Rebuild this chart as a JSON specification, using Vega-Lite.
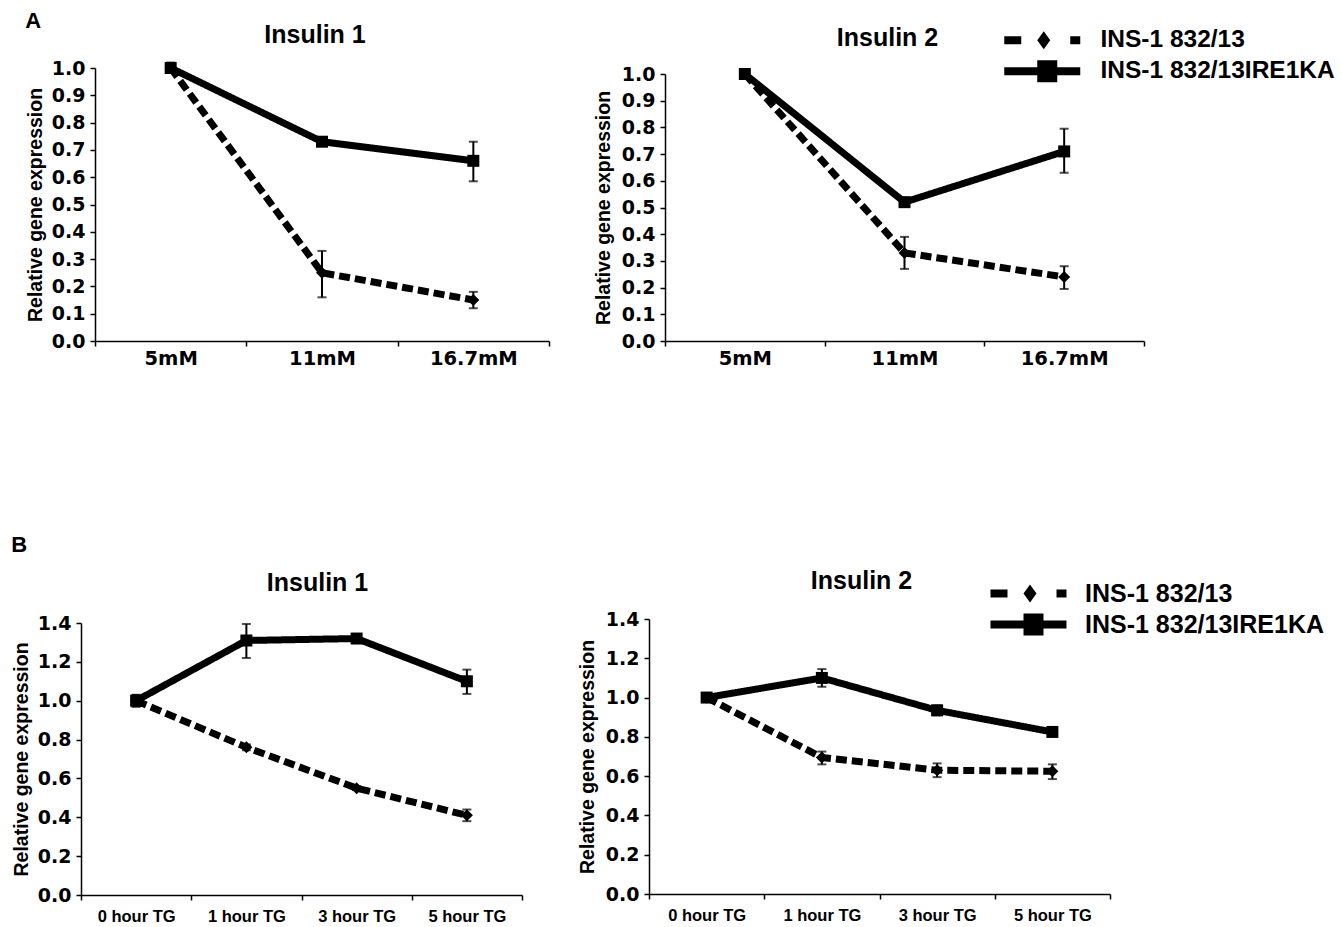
{
  "$schema": "https://vega.github.io/schema/vega-lite/v6.json",
  "background": "white",
  "padding": {"left": 11, "top": 10, "right": 5, "bottom": 0},
  "datasets": {
    "d": [
      {"panel": "A1", "x": "5mM", "i": 0, "group": "INS-1 832/13", "y": 1.0, "lo": 0.985, "hi": 1.015},
      {"panel": "A1", "x": "11mM", "i": 1, "group": "INS-1 832/13", "y": 0.25, "lo": 0.16, "hi": 0.33},
      {"panel": "A1", "x": "16.7mM", "i": 2, "group": "INS-1 832/13", "y": 0.15, "lo": 0.12, "hi": 0.18},
      {"panel": "A1", "x": "5mM", "i": 0, "group": "INS-1 832/13IRE1KA", "y": 1.0, "lo": 0.985, "hi": 1.02},
      {"panel": "A1", "x": "11mM", "i": 1, "group": "INS-1 832/13IRE1KA", "y": 0.73, "lo": 0.72, "hi": 0.74},
      {"panel": "A1", "x": "16.7mM", "i": 2, "group": "INS-1 832/13IRE1KA", "y": 0.66, "lo": 0.585, "hi": 0.73},
      {"panel": "A2", "x": "5mM", "i": 0, "group": "INS-1 832/13", "y": 1.0, "lo": 0.995, "hi": 1.005},
      {"panel": "A2", "x": "11mM", "i": 1, "group": "INS-1 832/13", "y": 0.33, "lo": 0.27, "hi": 0.39},
      {"panel": "A2", "x": "16.7mM", "i": 2, "group": "INS-1 832/13", "y": 0.24, "lo": 0.195, "hi": 0.28},
      {"panel": "A2", "x": "5mM", "i": 0, "group": "INS-1 832/13IRE1KA", "y": 1.0, "lo": 0.995, "hi": 1.005},
      {"panel": "A2", "x": "11mM", "i": 1, "group": "INS-1 832/13IRE1KA", "y": 0.52, "lo": 0.505, "hi": 0.535},
      {"panel": "A2", "x": "16.7mM", "i": 2, "group": "INS-1 832/13IRE1KA", "y": 0.71, "lo": 0.63, "hi": 0.795},
      {"panel": "B1", "x": "0 hour TG", "i": 0, "group": "INS-1 832/13", "y": 1.0, "lo": 0.97, "hi": 1.03},
      {"panel": "B1", "x": "1 hour TG", "i": 1, "group": "INS-1 832/13", "y": 0.76, "lo": 0.745, "hi": 0.775},
      {"panel": "B1", "x": "3 hour TG", "i": 2, "group": "INS-1 832/13", "y": 0.55, "lo": 0.54, "hi": 0.56},
      {"panel": "B1", "x": "5 hour TG", "i": 3, "group": "INS-1 832/13", "y": 0.41, "lo": 0.38, "hi": 0.44},
      {"panel": "B1", "x": "0 hour TG", "i": 0, "group": "INS-1 832/13IRE1KA", "y": 1.0, "lo": 0.97, "hi": 1.03},
      {"panel": "B1", "x": "1 hour TG", "i": 1, "group": "INS-1 832/13IRE1KA", "y": 1.31, "lo": 1.22, "hi": 1.395},
      {"panel": "B1", "x": "3 hour TG", "i": 2, "group": "INS-1 832/13IRE1KA", "y": 1.32, "lo": 1.31, "hi": 1.325},
      {"panel": "B1", "x": "5 hour TG", "i": 3, "group": "INS-1 832/13IRE1KA", "y": 1.1, "lo": 1.035, "hi": 1.16},
      {"panel": "B2", "x": "0 hour TG", "i": 0, "group": "INS-1 832/13", "y": 1.0, "lo": 0.99, "hi": 1.01},
      {"panel": "B2", "x": "1 hour TG", "i": 1, "group": "INS-1 832/13", "y": 0.695, "lo": 0.66, "hi": 0.725},
      {"panel": "B2", "x": "3 hour TG", "i": 2, "group": "INS-1 832/13", "y": 0.63, "lo": 0.595, "hi": 0.665},
      {"panel": "B2", "x": "5 hour TG", "i": 3, "group": "INS-1 832/13", "y": 0.625, "lo": 0.585, "hi": 0.66},
      {"panel": "B2", "x": "0 hour TG", "i": 0, "group": "INS-1 832/13IRE1KA", "y": 1.0, "lo": 0.99, "hi": 1.01},
      {"panel": "B2", "x": "1 hour TG", "i": 1, "group": "INS-1 832/13IRE1KA", "y": 1.1, "lo": 1.055, "hi": 1.145},
      {"panel": "B2", "x": "3 hour TG", "i": 2, "group": "INS-1 832/13IRE1KA", "y": 0.935, "lo": 0.91, "hi": 0.96},
      {"panel": "B2", "x": "5 hour TG", "i": 3, "group": "INS-1 832/13IRE1KA", "y": 0.825, "lo": 0.805, "hi": 0.845}
    ]
  },
  "config": {
    "view": {"stroke": null},
    "axis": {"grid": false, "domainColor": "black", "domainWidth": 1.5, "tickColor": "black", "tickWidth": 1.5, "tickSize": 5, "labelColor": "black", "labelFont": "DejaVu Sans", "labelFontWeight": "bold", "titleColor": "black", "titleFont": "Liberation Sans", "titleFontWeight": "bold", "titleFontSize": 19.5},
    "axisX": {"labelAngle": 0, "tickBand": "extent", "labelPadding": 3},
    "axisY": {"labelFontSize": 19, "labelPadding": 5, "titlePadding": 8},
    "title": {"font": "Liberation Sans", "fontSize": 25, "fontWeight": "bold", "color": "black"},
    "legend": {"labelFont": "Liberation Sans", "labelFontWeight": "bold", "labelColor": "black", "padding": 0, "labelLimit": 0, "symbolStrokeWidth": 0, "symbolSize": 400, "title": null}
  },
  "columns": 1,
  "align": "none",
  "spacing": 166,
  "resolve": {"scale": {"strokeDash": "independent", "fill": "independent", "color": "independent"}, "legend": {"strokeDash": "independent", "fill": "independent", "color": "independent"}},
  "concat": [
    {
      "title": {"text": "A", "anchor": "start", "fontSize": 22, "offset": -10},
      "columns": 2,
      "align": "none",
      "spacing": 43,
      "concat": [
        {
          "width": 468, "height": 273,
          "title": {"text": "Insulin 1", "dx": 0, "offset": 6},
          "data": {"name": "d"},
          "transform": [{"filter": "datum.panel == 'A1'"}],
          "encoding": {"x": {"field": "x", "type": "nominal", "title": null, "sort": ["5mM", "11mM", "16.7mM"], "scale": {"type": "band", "paddingInner": 0, "paddingOuter": 0, "range": [14, 468]}, "axis": {"labelFontSize": 19.5}}},
          "layer": [
            {"mark": {"type": "rule", "color": "black", "strokeWidth": 2}, "encoding": {"y": {"field": "lo", "type": "quantitative", "title": "Relative gene expression", "scale": {"domain": [0, 1]}, "axis": {"values": [0, 0.1, 0.2, 0.3, 0.4, 0.5, 0.6, 0.7, 0.8, 0.9, 1.0], "format": ".1f", "titlePadding": 6, "offset": -14}}, "y2": {"field": "hi"}}},
            {"mark": {"type": "tick", "color": "black", "size": 9, "thickness": 2}, "encoding": {"y": {"field": "lo", "type": "quantitative", "title": "Relative gene expression", "scale": {"domain": [0, 1]}, "axis": {"values": [0, 0.1, 0.2, 0.3, 0.4, 0.5, 0.6, 0.7, 0.8, 0.9, 1.0], "format": ".1f", "titlePadding": 6, "offset": -14}}}},
            {"mark": {"type": "tick", "color": "black", "size": 9, "thickness": 2}, "encoding": {"y": {"field": "hi", "type": "quantitative", "title": "Relative gene expression", "scale": {"domain": [0, 1]}, "axis": {"values": [0, 0.1, 0.2, 0.3, 0.4, 0.5, 0.6, 0.7, 0.8, 0.9, 1.0], "format": ".1f", "titlePadding": 6, "offset": -14}}}},
            {"mark": {"type": "line", "color": "black", "strokeWidth": 7}, "encoding": {"y": {"field": "y", "type": "quantitative", "title": "Relative gene expression", "scale": {"domain": [0, 1]}, "axis": {"values": [0, 0.1, 0.2, 0.3, 0.4, 0.5, 0.6, 0.7, 0.8, 0.9, 1.0], "format": ".1f", "titlePadding": 6, "offset": -14}}, "order": {"field": "i", "type": "quantitative"}, "strokeDash": {"field": "group", "type": "nominal", "scale": {"domain": ["INS-1 832/13", "INS-1 832/13IRE1KA"], "range": [[11, 5], [1, 0]]}, "legend": null}}},
            {"transform": [{"filter": "datum.group == 'INS-1 832/13'"}], "mark": {"type": "point", "shape": "diamond", "filled": true, "opacity": 1, "size": 144}, "encoding": {"y": {"field": "y", "type": "quantitative", "title": "Relative gene expression", "scale": {"domain": [0, 1]}, "axis": {"values": [0, 0.1, 0.2, 0.3, 0.4, 0.5, 0.6, 0.7, 0.8, 0.9, 1.0], "format": ".1f", "titlePadding": 6, "offset": -14}}, "fill": {"field": "group", "type": "nominal", "scale": {"domain": ["INS-1 832/13"], "range": ["black"]}, "legend": {"orient": "none", "legendX": 921, "legendY": -40, "labelFontSize": 24.5, "labelOffset": 74, "symbolType": "M-1,-0.4L0.7,-0.4L0.7,0.4L-1,0.4Z M2.95,-0.9L3.6,0L2.95,0.9L2.3,0Z M5.6,-0.4L6.6,-0.4L6.6,0.4L5.6,0.4Z"}}}},
            {"transform": [{"filter": "datum.group == 'INS-1 832/13IRE1KA'"}], "mark": {"type": "point", "shape": "square", "filled": true, "opacity": 1, "size": 144}, "encoding": {"y": {"field": "y", "type": "quantitative", "title": "Relative gene expression", "scale": {"domain": [0, 1]}, "axis": {"values": [0, 0.1, 0.2, 0.3, 0.4, 0.5, 0.6, 0.7, 0.8, 0.9, 1.0], "format": ".1f", "titlePadding": 6, "offset": -14}}, "color": {"field": "group", "type": "nominal", "scale": {"domain": ["INS-1 832/13IRE1KA"], "range": ["black"]}, "legend": {"orient": "none", "legendX": 921, "legendY": -9, "labelFontSize": 24.5, "labelOffset": 74, "symbolType": "M-1,-0.4L6.6,-0.4L6.6,0.4L-1,0.4Z M2.3,-1.1L4.3,-1.1L4.3,1.1L2.3,1.1Z"}}}}
          ]
        },
        {
          "width": 479, "height": 273,
          "title": {"text": "Insulin 2", "dx": -17, "offset": 9},
          "data": {"name": "d"},
          "transform": [{"filter": "datum.panel == 'A2'"}],
          "encoding": {"x": {"field": "x", "type": "nominal", "title": null, "sort": ["5mM", "11mM", "16.7mM"], "scale": {"type": "band", "paddingInner": 0, "paddingOuter": 0}, "axis": {"labelFontSize": 19.5}}},
          "layer": [
            {"mark": {"type": "rule", "color": "black", "strokeWidth": 2}, "encoding": {"y": {"field": "lo", "type": "quantitative", "title": "Relative gene expression", "scale": {"domain": [0, 1], "range": [273, 6]}, "axis": {"values": [0, 0.1, 0.2, 0.3, 0.4, 0.5, 0.6, 0.7, 0.8, 0.9, 1.0], "format": ".1f"}}, "y2": {"field": "hi"}}},
            {"mark": {"type": "tick", "color": "black", "size": 9, "thickness": 2}, "encoding": {"y": {"field": "lo", "type": "quantitative", "title": "Relative gene expression", "scale": {"domain": [0, 1], "range": [273, 6]}, "axis": {"values": [0, 0.1, 0.2, 0.3, 0.4, 0.5, 0.6, 0.7, 0.8, 0.9, 1.0], "format": ".1f"}}}},
            {"mark": {"type": "tick", "color": "black", "size": 9, "thickness": 2}, "encoding": {"y": {"field": "hi", "type": "quantitative", "title": "Relative gene expression", "scale": {"domain": [0, 1], "range": [273, 6]}, "axis": {"values": [0, 0.1, 0.2, 0.3, 0.4, 0.5, 0.6, 0.7, 0.8, 0.9, 1.0], "format": ".1f"}}}},
            {"mark": {"type": "line", "color": "black", "strokeWidth": 7}, "encoding": {"y": {"field": "y", "type": "quantitative", "title": "Relative gene expression", "scale": {"domain": [0, 1], "range": [273, 6]}, "axis": {"values": [0, 0.1, 0.2, 0.3, 0.4, 0.5, 0.6, 0.7, 0.8, 0.9, 1.0], "format": ".1f"}}, "order": {"field": "i", "type": "quantitative"}, "strokeDash": {"field": "group", "type": "nominal", "scale": {"domain": ["INS-1 832/13", "INS-1 832/13IRE1KA"], "range": [[11, 5], [1, 0]]}, "legend": null}}},
            {"transform": [{"filter": "datum.group == 'INS-1 832/13'"}], "mark": {"type": "point", "shape": "diamond", "filled": true, "opacity": 1, "size": 144}, "encoding": {"y": {"field": "y", "type": "quantitative", "title": "Relative gene expression", "scale": {"domain": [0, 1], "range": [273, 6]}, "axis": {"values": [0, 0.1, 0.2, 0.3, 0.4, 0.5, 0.6, 0.7, 0.8, 0.9, 1.0], "format": ".1f"}}, "fill": {"field": "group", "type": "nominal", "scale": {"domain": ["INS-1 832/13"], "range": ["black"]}, "legend": {"orient": "none", "legendX": 921, "legendY": -40, "labelFontSize": 24.5, "labelOffset": 74, "symbolType": "M-1,-0.4L0.7,-0.4L0.7,0.4L-1,0.4Z M2.95,-0.9L3.6,0L2.95,0.9L2.3,0Z M5.6,-0.4L6.6,-0.4L6.6,0.4L5.6,0.4Z"}}}},
            {"transform": [{"filter": "datum.group == 'INS-1 832/13IRE1KA'"}], "mark": {"type": "point", "shape": "square", "filled": true, "opacity": 1, "size": 144}, "encoding": {"y": {"field": "y", "type": "quantitative", "title": "Relative gene expression", "scale": {"domain": [0, 1], "range": [273, 6]}, "axis": {"values": [0, 0.1, 0.2, 0.3, 0.4, 0.5, 0.6, 0.7, 0.8, 0.9, 1.0], "format": ".1f"}}, "color": {"field": "group", "type": "nominal", "scale": {"domain": ["INS-1 832/13IRE1KA"], "range": ["black"]}, "legend": {"orient": "none", "legendX": 921, "legendY": -9, "labelFontSize": 24.5, "labelOffset": 74, "symbolType": "M-1,-0.4L6.6,-0.4L6.6,0.4L-1,0.4Z M2.3,-1.1L4.3,-1.1L4.3,1.1L2.3,1.1Z"}}}}
          ]
        }
      ]
    },
    {
      "title": {"text": "B", "anchor": "start", "fontSize": 22, "offset": 12},
      "columns": 2,
      "align": "none",
      "spacing": 54,
      "concat": [
        {
          "width": 441, "height": 276,
          "title": {"text": "Insulin 1", "dx": 16, "offset": 18},
          "data": {"name": "d"},
          "transform": [{"filter": "datum.panel == 'B1'"}],
          "encoding": {"x": {"field": "x", "type": "nominal", "title": null, "sort": ["0 hour TG", "1 hour TG", "3 hour TG", "5 hour TG"], "scale": {"type": "band", "paddingInner": 0, "paddingOuter": 0}, "axis": {"labelFont": "Liberation Sans", "labelFontSize": 16.5, "labelPadding": 8}}},
          "layer": [
            {"mark": {"type": "rule", "color": "black", "strokeWidth": 2}, "encoding": {"y": {"field": "lo", "type": "quantitative", "title": "Relative gene expression", "scale": {"domain": [0, 1.4], "range": [276, 4]}, "axis": {"values": [0, 0.2, 0.4, 0.6, 0.8, 1.0, 1.2, 1.4], "format": ".1f", "titlePadding": 6}}, "y2": {"field": "hi"}}},
            {"mark": {"type": "tick", "color": "black", "size": 9, "thickness": 2}, "encoding": {"y": {"field": "lo", "type": "quantitative", "title": "Relative gene expression", "scale": {"domain": [0, 1.4], "range": [276, 4]}, "axis": {"values": [0, 0.2, 0.4, 0.6, 0.8, 1.0, 1.2, 1.4], "format": ".1f", "titlePadding": 6}}}},
            {"mark": {"type": "tick", "color": "black", "size": 9, "thickness": 2}, "encoding": {"y": {"field": "hi", "type": "quantitative", "title": "Relative gene expression", "scale": {"domain": [0, 1.4], "range": [276, 4]}, "axis": {"values": [0, 0.2, 0.4, 0.6, 0.8, 1.0, 1.2, 1.4], "format": ".1f", "titlePadding": 6}}}},
            {"mark": {"type": "line", "color": "black", "strokeWidth": 7}, "encoding": {"y": {"field": "y", "type": "quantitative", "title": "Relative gene expression", "scale": {"domain": [0, 1.4], "range": [276, 4]}, "axis": {"values": [0, 0.2, 0.4, 0.6, 0.8, 1.0, 1.2, 1.4], "format": ".1f", "titlePadding": 6}}, "order": {"field": "i", "type": "quantitative"}, "strokeDash": {"field": "group", "type": "nominal", "scale": {"domain": ["INS-1 832/13", "INS-1 832/13IRE1KA"], "range": [[11, 5], [1, 0]]}, "legend": null}}},
            {"transform": [{"filter": "datum.group == 'INS-1 832/13'"}], "mark": {"type": "point", "shape": "diamond", "filled": true, "opacity": 1, "size": 144}, "encoding": {"y": {"field": "y", "type": "quantitative", "title": "Relative gene expression", "scale": {"domain": [0, 1.4], "range": [276, 4]}, "axis": {"values": [0, 0.2, 0.4, 0.6, 0.8, 1.0, 1.2, 1.4], "format": ".1f", "titlePadding": 6}}, "fill": {"field": "group", "type": "nominal", "scale": {"domain": ["INS-1 832/13"], "range": ["black"]}, "legend": {"orient": "none", "legendX": 907, "legendY": -38, "labelFontSize": 25, "labelOffset": 72, "symbolType": "M-1,-0.4L0.7,-0.4L0.7,0.4L-1,0.4Z M2.95,-0.9L3.6,0L2.95,0.9L2.3,0Z M5.6,-0.4L6.6,-0.4L6.6,0.4L5.6,0.4Z"}}}},
            {"transform": [{"filter": "datum.group == 'INS-1 832/13IRE1KA'"}], "mark": {"type": "point", "shape": "square", "filled": true, "opacity": 1, "size": 144}, "encoding": {"y": {"field": "y", "type": "quantitative", "title": "Relative gene expression", "scale": {"domain": [0, 1.4], "range": [276, 4]}, "axis": {"values": [0, 0.2, 0.4, 0.6, 0.8, 1.0, 1.2, 1.4], "format": ".1f", "titlePadding": 6}}, "color": {"field": "group", "type": "nominal", "scale": {"domain": ["INS-1 832/13IRE1KA"], "range": ["black"]}, "legend": {"orient": "none", "legendX": 907, "legendY": -7, "labelFontSize": 25, "labelOffset": 72, "symbolType": "M-1,-0.4L6.6,-0.4L6.6,0.4L-1,0.4Z M2.3,-1.1L4.3,-1.1L4.3,1.1L2.3,1.1Z"}}}}
          ]
        },
        {
          "width": 461, "height": 275,
          "title": {"text": "Insulin 2", "dx": -18, "offset": 16},
          "data": {"name": "d"},
          "transform": [{"filter": "datum.panel == 'B2'"}],
          "encoding": {"x": {"field": "x", "type": "nominal", "title": null, "sort": ["0 hour TG", "1 hour TG", "3 hour TG", "5 hour TG"], "scale": {"type": "band", "paddingInner": 0, "paddingOuter": 0}, "axis": {"labelFont": "Liberation Sans", "labelFontSize": 16.5, "labelPadding": 8}}},
          "layer": [
            {"mark": {"type": "rule", "color": "black", "strokeWidth": 2}, "encoding": {"y": {"field": "lo", "type": "quantitative", "title": "Relative gene expression", "scale": {"domain": [0, 1.4]}, "axis": {"values": [0, 0.2, 0.4, 0.6, 0.8, 1.0, 1.2, 1.4], "format": ".1f"}}, "y2": {"field": "hi"}}},
            {"mark": {"type": "tick", "color": "black", "size": 9, "thickness": 2}, "encoding": {"y": {"field": "lo", "type": "quantitative", "title": "Relative gene expression", "scale": {"domain": [0, 1.4]}, "axis": {"values": [0, 0.2, 0.4, 0.6, 0.8, 1.0, 1.2, 1.4], "format": ".1f"}}}},
            {"mark": {"type": "tick", "color": "black", "size": 9, "thickness": 2}, "encoding": {"y": {"field": "hi", "type": "quantitative", "title": "Relative gene expression", "scale": {"domain": [0, 1.4]}, "axis": {"values": [0, 0.2, 0.4, 0.6, 0.8, 1.0, 1.2, 1.4], "format": ".1f"}}}},
            {"mark": {"type": "line", "color": "black", "strokeWidth": 7}, "encoding": {"y": {"field": "y", "type": "quantitative", "title": "Relative gene expression", "scale": {"domain": [0, 1.4]}, "axis": {"values": [0, 0.2, 0.4, 0.6, 0.8, 1.0, 1.2, 1.4], "format": ".1f"}}, "order": {"field": "i", "type": "quantitative"}, "strokeDash": {"field": "group", "type": "nominal", "scale": {"domain": ["INS-1 832/13", "INS-1 832/13IRE1KA"], "range": [[11, 5], [1, 0]]}, "legend": null}}},
            {"transform": [{"filter": "datum.group == 'INS-1 832/13'"}], "mark": {"type": "point", "shape": "diamond", "filled": true, "opacity": 1, "size": 144}, "encoding": {"y": {"field": "y", "type": "quantitative", "title": "Relative gene expression", "scale": {"domain": [0, 1.4]}, "axis": {"values": [0, 0.2, 0.4, 0.6, 0.8, 1.0, 1.2, 1.4], "format": ".1f"}}, "fill": {"field": "group", "type": "nominal", "scale": {"domain": ["INS-1 832/13"], "range": ["black"]}, "legend": {"orient": "none", "legendX": 907, "legendY": -38, "labelFontSize": 25, "labelOffset": 72, "symbolType": "M-1,-0.4L0.7,-0.4L0.7,0.4L-1,0.4Z M2.95,-0.9L3.6,0L2.95,0.9L2.3,0Z M5.6,-0.4L6.6,-0.4L6.6,0.4L5.6,0.4Z"}}}},
            {"transform": [{"filter": "datum.group == 'INS-1 832/13IRE1KA'"}], "mark": {"type": "point", "shape": "square", "filled": true, "opacity": 1, "size": 144}, "encoding": {"y": {"field": "y", "type": "quantitative", "title": "Relative gene expression", "scale": {"domain": [0, 1.4]}, "axis": {"values": [0, 0.2, 0.4, 0.6, 0.8, 1.0, 1.2, 1.4], "format": ".1f"}}, "color": {"field": "group", "type": "nominal", "scale": {"domain": ["INS-1 832/13IRE1KA"], "range": ["black"]}, "legend": {"orient": "none", "legendX": 907, "legendY": -7, "labelFontSize": 25, "labelOffset": 72, "symbolType": "M-1,-0.4L6.6,-0.4L6.6,0.4L-1,0.4Z M2.3,-1.1L4.3,-1.1L4.3,1.1L2.3,1.1Z"}}}}
          ]
        }
      ]
    }
  ]
}
